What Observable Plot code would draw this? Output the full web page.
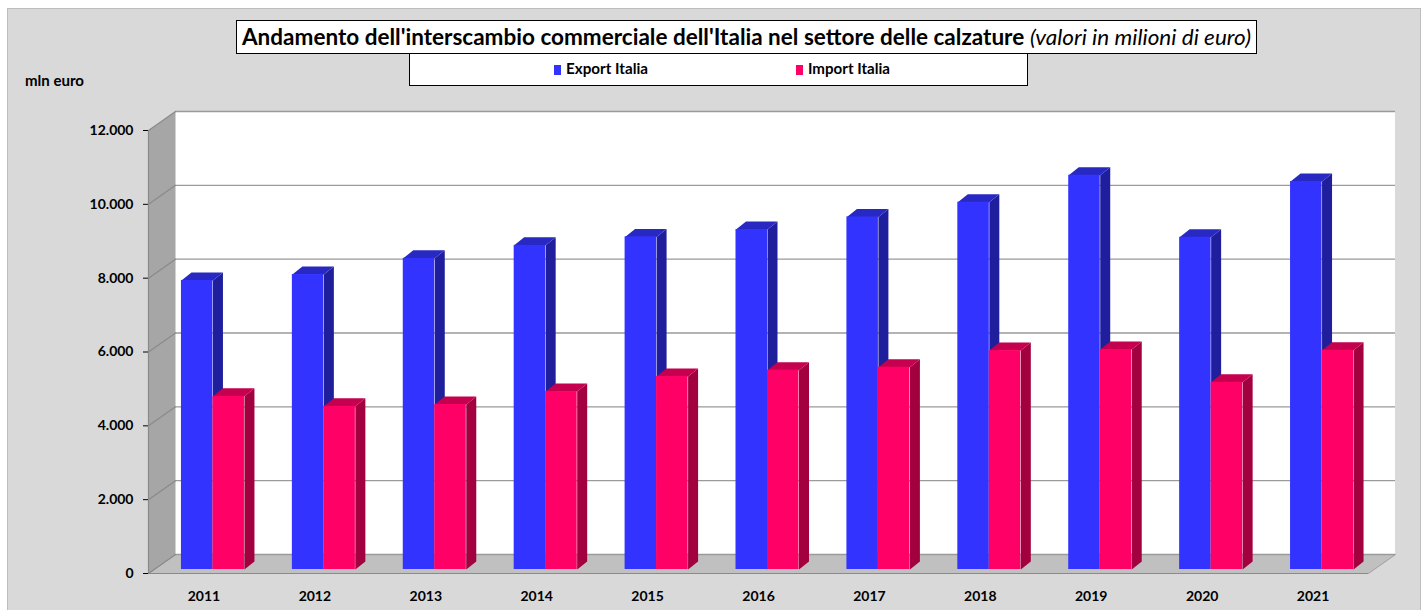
<!DOCTYPE html>
<html>
<head>
<meta charset="utf-8">
<script src="https://cdn.jsdelivr.net/npm/d3@7"></script>
<script src="https://cdn.jsdelivr.net/npm/@observablehq/plot@0.6"></script>
<style>
  body { margin: 0; background: #fff; font-family: Lato, "Liberation Sans", sans-serif; }
  #wrap { position: relative; width: 1423px; height: 610px; overflow: hidden; }
  #bg { position: absolute; left: 7px; top: 8px; width: 1414px; height: 620px; background: #d9d9d9; border: 1px solid #bdbdbd; box-sizing: border-box; }
  #chart { position: absolute; left: 0; top: 0; }
  #title { position: absolute; left: 236px; top: 20px; width: 1021px; height: 34px; box-sizing: border-box; border: 1.5px solid #000; background: #fff; overflow: hidden; }
  #title span { position: absolute; left: 0; top: 2px; white-space: nowrap; font-size: 22px; transform-origin: 0 0; color: #000; }
  #legend { position: absolute; left: 409px; top: 53px; width: 619px; height: 33px; box-sizing: border-box; border: 1px solid #000; background: #fff; font-size: 14.5px; font-weight: bold; }
  .sw { position: absolute; top: 11px; width: 7px; height: 10px; }
  .lt { position: absolute; top: 6px; white-space: nowrap; transform-origin: 0 0; }
  #unit { position: absolute; left: 25px; top: 72px; font-size: 14.5px; font-weight: bold; white-space: nowrap; transform-origin: 0 0; }
</style>
</head>
<body>
<div id="wrap">
  <div id="bg"></div>
  <div id="chart"></div>
  <div id="unit"></div>
  <div id="title"><span id="titletext"></span></div>
  <div id="legend"></div>
</div>
<script>
// ---- data ----
const years = ["2011","2012","2013","2014","2015","2016","2017","2018","2019","2020","2021"];
const exportItalia = [7830, 7990, 8430, 8780, 9010, 9210, 9550, 9950, 10680, 9000, 10510];
const importItalia = [4690, 4420, 4470, 4820, 5230, 5400, 5480, 5930, 5960, 5070, 5940];
const yTicks = [0, 2000, 4000, 6000, 8000, 10000, 12000];
const yTickLabels = ["0", "2.000", "4.000", "6.000", "8.000", "10.000", "12.000"];
const seriesNames = ["Export Italia", "Import Italia"];
const titleBold = "Andamento dell'interscambio commerciale dell'Italia nel settore delle calzature";
const titleItalic = "(valori in milioni di euro)";
const unitLabel = "mln euro";

// ---- layout ----
const W = 1423, H = 610;
const mL = 148, mR = 55, mT = 130, mB = 37;
const pxX = (W - mL - mR) / years.length;     // px per category
const pxY = (H - mT - mB) / 12000;            // px per euro-million
const wallDX = 27 / pxX, wallDY = 19 / pxY;   // depth of the 3D box
const barDX = 10 / pxX, barDY = 8 / pxY;      // depth of each column
const barW = 31.5 / pxX;
const barOff = {dx: 9, dy: -4};

const colors = {
  exp: {front: "#3333ff", top: "#2828c2", side: "#1f1f9e"},
  imp: {front: "#ff0066", top: "#c4004f", side: "#a3003f"}
};

const rows = years.map((y, i) => ({i, year: y, exp: exportItalia[i], imp: importItalia[i]}));
const n = years.length;

// polygons (data space)
const leftWall = [[0,0],[0,12000],[wallDX,12000+wallDY],[wallDX,wallDY]].map(([x,y]) => ({x,y}));
const floor = [[0,0],[n,0],[n+wallDX,wallDY],[wallDX,wallDY],[0,0]].map(([x,y]) => ({x,y}));
const sideGrid = yTicks.flatMap(t => [{x:0,y:t,k:t},{x:wallDX,y:t+wallDY,k:t}]);

function faces(key, x0) {
  const side = [], top = [];
  rows.forEach(d => {
    const v = d[key];
    const xl = d.i + 0.5 + x0, xr = xl + barW;
    side.push({x:xr,y:0,k:d.i},{x:xr,y:v,k:d.i},{x:xr+barDX,y:v+barDY,k:d.i},{x:xr+barDX,y:barDY,k:d.i});
    top.push({x:xl,y:v,k:d.i},{x:xr,y:v,k:d.i},{x:xr+barDX,y:v+barDY,k:d.i},{x:xl+barDX,y:v+barDY,k:d.i});
  });
  return {side, top};
}
const fe = faces("exp", -barW), fi = faces("imp", 0);

const chart = Plot.plot({
  width: W, height: H,
  marginLeft: mL, marginRight: mR, marginTop: mT, marginBottom: mB,
  style: {background: "transparent", fontFamily: "Lato, 'Liberation Sans', sans-serif", fontSize: "14px", fontWeight: "bold", color: "#000", overflow: "visible"},
  x: {domain: [0, n], ticks: years.map((_, i) => i + 0.5), tickFormat: d => years[Math.floor(d)], tickSize: 0, tickPadding: 18, label: null},
  y: {domain: [0, 12000], ticks: yTicks, tickFormat: d => yTickLabels[yTicks.indexOf(d)], tickSize: 5, tickPadding: 10, label: null},
  marks: [
    // floor
    Plot.line(floor, {x: "x", y: "y", fill: "#c0c0c0", stroke: "#a0a0a0", strokeWidth: 1}),
    // back wall
    Plot.rect([{}], {x1: 0, x2: n, y1: 0, y2: 12000, dx: 27, dy: -19, fill: "#ffffff"}),
    Plot.ruleY(yTicks, {dx: 27, dy: -19, stroke: "#9a9a9a", strokeWidth: 1.4}),
    // left wall
    Plot.line(leftWall, {x: "x", y: "y", fill: "#a6a6a6", stroke: "none"}),
    Plot.line(sideGrid, {x: "x", y: "y", z: "k", stroke: "#8a8a8a", strokeWidth: 1.2}),
    // front axis lines
    Plot.ruleX([0], {y1: 0, y2: 12000, stroke: "#8a8a8a", strokeWidth: 1.2}),
    // export columns
    Plot.line(fe.side, {x: "x", y: "y", z: "k", fill: colors.exp.side, stroke: "none", ...barOff}),
    Plot.line(fe.top, {x: "x", y: "y", z: "k", fill: colors.exp.top, stroke: "none", ...barOff}),
    Plot.rect(rows, {x1: d => d.i + 0.5 - barW, x2: d => d.i + 0.5, y1: 0, y2: "exp", fill: colors.exp.front, ...barOff}),
    // import columns
    Plot.line(fi.side, {x: "x", y: "y", z: "k", fill: colors.imp.side, stroke: "none", ...barOff}),
    Plot.line(fi.top, {x: "x", y: "y", z: "k", fill: colors.imp.top, stroke: "none", ...barOff}),
    Plot.rect(rows, {x1: d => d.i + 0.5, x2: d => d.i + 0.5 + barW, y1: 0, y2: "imp", fill: colors.imp.front, ...barOff}),
    Plot.ruleY([0], {x1: 0, x2: n, stroke: "#8a8a8a", strokeWidth: 1.2})
  ]
});
document.getElementById("chart").appendChild(chart);

// helper: fit text horizontally to a measured width
function fitWidth(el, target) {
  const w = el.getBoundingClientRect().width;
  if (w > 0) el.style.transform = `scaleX(${target / w})`;
}

// title
const tt = document.getElementById("titletext");
const b = document.createElement("b"); b.textContent = titleBold; tt.appendChild(b);
tt.appendChild(document.createTextNode(" "));
const it = document.createElement("i"); it.textContent = titleItalic; tt.appendChild(it);
const targetW = 1009;
fitWidth(tt, targetW);
tt.style.left = ((1021 - 3 - targetW) / 2) + "px";

// unit
const un = document.getElementById("unit");
un.textContent = unitLabel;
fitWidth(un, 59);

// legend
const lg = document.getElementById("legend");
const legendPos = [144, 386];
seriesNames.forEach((name, k) => {
  const sw = document.createElement("div");
  sw.className = "sw";
  sw.style.left = legendPos[k] + "px";
  sw.style.background = k === 0 ? colors.exp.front : colors.imp.front;
  lg.appendChild(sw);
  const t = document.createElement("div");
  t.className = "lt";
  t.style.left = (legendPos[k] + 12) + "px";
  t.textContent = name;
  lg.appendChild(t);
  fitWidth(t, 82);
});
</script>
</body>
</html>
